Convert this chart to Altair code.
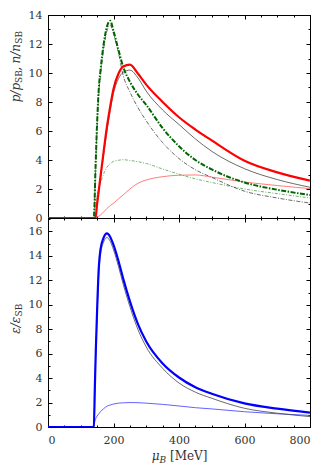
import altair as alt
import pandas as pd

# ---------------- data ----------------
MU_TOP = [0, 140, 145, 150, 155, 160, 170, 180, 190, 200, 215, 230, 250, 275,
          300, 350, 400, 450, 500, 600, 700, 800]
RED_THICK = [0, 0, 0, 1.0, 1.9, 2.8, 4.6, 6.3, 7.7, 8.9, 9.95, 10.45, 10.58, 9.95,
             9.2, 8.0, 6.95, 6.1, 5.35, 3.95, 3.15, 2.58]
BLACK_SOLID_TOP = [0, 0, 0, 0.95, 1.8, 2.7, 4.4, 6.0, 7.4, 8.6, 9.6, 10.05, 10.2, 9.65,
                   8.75, 7.45, 6.45, 5.45, 4.6, 3.4, 2.65, 2.12]
GREEN_THICK = [0, 0, 3.4, 6.6, 8.9, 10.1, 12.0, 13.2, 13.6, 12.9, 11.6, 10.4, 9.4, 8.5,
               7.8, 6.2, 4.95, 4.0, 3.35, 2.45, 1.95, 1.58]
BLACK_DASHDOT = [0, 0, 3.2, 6.3, 8.6, 9.8, 11.7, 12.9, 13.3, 12.7, 11.4, 9.8, 8.7, 7.6,
                 6.7, 5.2, 4.1, 3.33, 2.8, 1.85, 1.38, 1.03]
GREEN_THIN = [0, 0, 1.1, 1.55, 2.0, 2.4, 3.05, 3.5, 3.75, 3.9, 3.98, 4.02, 3.97, 3.88,
              3.76, 3.38, 3.02, 2.7, 2.45, 2.0, 1.68, 1.38]
RED_THIN = [0, 0, 0, 0.05, 0.12, 0.2, 0.42, 0.65, 0.86, 1.02, 1.32, 1.6, 2.0, 2.4,
            2.62, 2.85, 2.95, 2.97, 2.82, 2.48, 2.24, 2.02]

MU_BOT = [0, 140, 143, 146, 150, 155, 160, 170, 180, 190, 200, 215, 230, 250, 275,
          300, 350, 400, 450, 500, 600, 700, 800]
BLUE_THICK = [0, 0, 3.2, 6.3, 9.6, 13.0, 14.5, 15.5, 15.84, 15.55, 14.9, 13.6, 12.1, 10.3,
              8.4, 7.0, 5.2, 4.05, 3.25, 2.72, 1.93, 1.5, 1.18]
BLACK_BOT = [0, 0, 3.0, 6.0, 9.2, 12.5, 14.0, 15.15, 15.5, 15.2, 14.5, 13.15, 11.65, 9.85,
             7.95, 6.55, 4.8, 3.6, 2.85, 2.35, 1.53, 1.13, 0.85]
BLUE_THIN = [0, 0, 0.45, 0.7, 0.9, 1.08, 1.25, 1.5, 1.7, 1.8, 1.88, 1.95, 1.98, 2.0, 1.99,
             1.95, 1.85, 1.72, 1.58, 1.48, 1.25, 1.08, 0.95]

X_MAJOR = [0, 200, 400, 600, 800]
X_MINOR = list(range(0, 801, 50))
TOP_MAJOR = list(range(0, 15, 2))
TOP_MINOR = list(range(0, 15, 1))
BOT_MAJOR = list(range(0, 17, 2))
BOT_MINOR = list(range(0, 18, 1))

# axis titles, split into (text, is_subscript, italic, gap_before_em) pieces
TOP_TITLE = [("p/p", False, True, 0), ("SB", True, False, 0),
             (",", False, True, 0), ("n/n", False, True, 0.3), ("SB", True, False, 0)]
BOT_TITLE = [("ε/ε", False, True, 0), ("SB", True, False, 0)]
X_TITLE = [("μ", False, True, 0), ("B", True, True, 0), ("[MeV]", False, False, 0.35)]

FONT = "DejaVu Serif"
FS = 11
TFS = 12
SFS = 9
TXT = "#333333"
W = 262
H_TOP = 203
H_BOT = 209

XS = alt.Scale(domain=[0, 800], nice=False, zero=False)

# approximate advance widths (em) used to chain title pieces
ADV = {"p": 0.64, "/": 0.34, "n": 0.65, ",": 0.32, "S": 0.65, "B": 0.69,
       "ε": 0.55, "μ": 0.66, "[": 0.39, "]": 0.39, "M": 0.94, "e": 0.59, "V": 0.72}


def text_width(s, size):
    return sum(ADV.get(c, 0.6) for c in s) * size


def piece_size(sub):
    return SFS if sub else TFS


def frame(mu, vals):
    return pd.DataFrame({"mu": mu, "v": vals})


def line(mu, vals, ys, color, width, dash=None):
    kw = dict(color=color, strokeWidth=width, clip=True, strokeCap="butt",
              interpolate="monotone")
    if dash:
        kw["strokeDash"] = dash
    return alt.Chart(frame(mu, vals)).mark_line(**kw).encode(
        x=alt.X("mu:Q", scale=XS, axis=None),
        y=alt.Y("v:Q", scale=ys, axis=None),
    )


def tick_axis(orient, values, size):
    return alt.Axis(orient=orient, values=values, labels=False, domain=False,
                    ticks=True, tickSize=size, offset=-size, tickColor="black",
                    tickWidth=1, grid=False, title=None)


def axis_layer(mu, vals, ys, xaxis, yaxis):
    return alt.Chart(frame(mu, vals)).mark_line(opacity=0).encode(
        x=alt.X("mu:Q", scale=XS, axis=xaxis),
        y=alt.Y("v:Q", scale=ys, axis=yaxis),
    )


def tick_layers(mu, vals, ys, ymajor, yminor):
    return [
        axis_layer(mu, vals, ys, tick_axis("bottom", X_MAJOR, 4), tick_axis("left", ymajor, 4)),
        axis_layer(mu, vals, ys, tick_axis("top", X_MAJOR, 4), tick_axis("right", ymajor, 4)),
        axis_layer(mu, vals, ys, tick_axis("bottom", X_MINOR, 2), tick_axis("left", yminor, 2)),
        axis_layer(mu, vals, ys, tick_axis("top", X_MINOR, 2), tick_axis("right", yminor, 2)),
    ]


def ylabel_axis(values):
    return alt.Axis(orient="left", values=values, ticks=False, tickSize=0, domain=False,
                    grid=False, labelFont=FONT, labelFontSize=FS, labelColor=TXT,
                    labelPadding=6, format="d", title=None)


def piece(s, size, italic, x, y, angle):
    return alt.Chart(pd.DataFrame({"t": [s]})).mark_text(
        align="left", baseline="alphabetic", angle=angle, font=FONT, fontSize=size,
        fontStyle="italic" if italic else "normal", color=TXT,
    ).encode(text="t:N", x=alt.value(x), y=alt.value(y))


def total_width(pieces):
    return sum(text_width(s, piece_size(sub)) + gap * TFS for s, sub, _, gap in pieces)


def vertical_title(pieces, x_base, y_center):
    y = y_center + total_width(pieces) / 2
    out = []
    for s, sub, it, gap in pieces:
        size = piece_size(sub)
        y -= gap * TFS
        out.append(piece(s, size, it, x_base + (2.5 if sub else 0), y, 270))
        y -= text_width(s, size)
    return out


def horizontal_title(pieces, x_center, y_base):
    x = x_center - total_width(pieces) / 2
    out = []
    for s, sub, it, gap in pieces:
        size = piece_size(sub)
        x += gap * TFS
        out.append(piece(s, size, it, x, y_base + (2.5 if sub else 0), 0))
        x += text_width(s, size)
    return out


# ---------------- top panel ----------------
ys_top = alt.Scale(domain=[0, 14], nice=False)
top_layers = [
    line(MU_TOP, RED_THIN, ys_top, "#ff5a5a", 0.8),
    line(MU_TOP, GREEN_THIN, ys_top, "#4f9f4f", 0.8, [3, 1.5, 1, 1.5]),
    line(MU_TOP, BLACK_DASHDOT, ys_top, "#444444", 0.8, [4, 1.5, 1, 1.5]),
    line(MU_TOP, BLACK_SOLID_TOP, ys_top, "#444444", 0.8),
    line(MU_TOP, GREEN_THICK, ys_top, "#006400", 2.0, [5, 1.5, 1.5, 1.5]),
    line(MU_TOP, RED_THICK, ys_top, "#ff0000", 2.2),
    axis_layer(MU_TOP, RED_THICK, ys_top, None, ylabel_axis(TOP_MAJOR)),
] + tick_layers(MU_TOP, RED_THICK, ys_top, TOP_MAJOR, TOP_MINOR) \
  + vertical_title(TOP_TITLE, -28.5, 52)

top = alt.layer(*top_layers).resolve_axis(x="independent", y="independent").properties(
    width=W, height=H_TOP)

# ---------------- bottom panel ----------------
ys_bot = alt.Scale(domain=[0, 17.1], nice=False)
xlabel_axis = alt.Axis(orient="bottom", values=X_MAJOR, ticks=False, tickSize=0,
                       domain=False, grid=False, labelFont=FONT, labelFontSize=FS,
                       labelColor=TXT, labelPadding=7, format="d", title=None)
bot_layers = [
    line(MU_BOT, BLUE_THIN, ys_bot, "#3a3aff", 0.8),
    line(MU_BOT, BLACK_BOT, ys_bot, "#444444", 0.8),
    line(MU_BOT, BLUE_THICK, ys_bot, "#0000ff", 2.2),
    axis_layer(MU_BOT, BLUE_THICK, ys_bot, xlabel_axis, ylabel_axis(BOT_MAJOR)),
] + tick_layers(MU_BOT, BLUE_THICK, ys_bot, BOT_MAJOR, BOT_MINOR) \
  + vertical_title(BOT_TITLE, -28.5, 101) \
  + horizontal_title(X_TITLE, W / 2, H_BOT + 33)

bottom = alt.layer(*bot_layers).resolve_axis(x="independent", y="independent").properties(
    width=W, height=H_BOT)

chart = alt.vconcat(top, bottom, spacing=0, bounds="flush").properties(
    padding={"left": 0, "top": 0, "right": 0, "bottom": 0}
).configure_view(stroke="black", strokeWidth=1)

chart.save("out.html", embed_options={"renderer": "svg", "actions": False})
